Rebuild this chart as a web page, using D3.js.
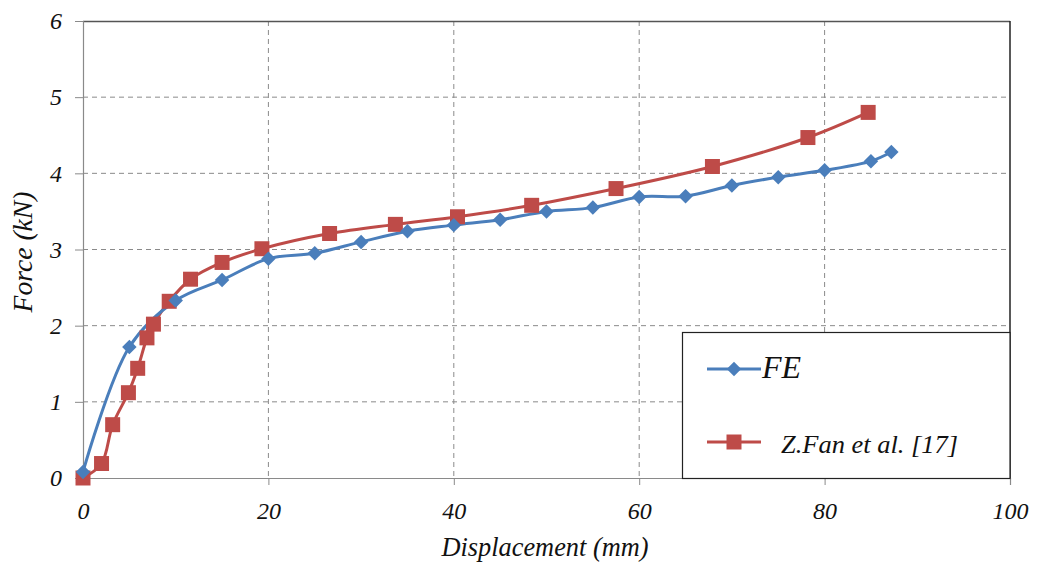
<!DOCTYPE html>
<html><head><meta charset="utf-8">
<script src="https://cdn.jsdelivr.net/npm/d3@7"></script>
<style>body{margin:0;background:#fff}</style>
</head><body>
<svg id="c" width="1038" height="563"></svg>
<script>
const feX = [0, 5, 10, 15, 20, 25, 30, 35, 40, 45, 50, 55, 60, 65, 70, 75, 80, 85, 87.2];
const feY = [0.08, 1.72, 2.33, 2.6, 2.88, 2.95, 3.1, 3.24, 3.32, 3.39, 3.5, 3.55, 3.69, 3.7, 3.84, 3.95, 4.04, 4.16, 4.28];
const fanX = [0, 2, 3.2, 4.9, 5.9, 6.9, 7.6, 9.3, 11.6, 15, 19.3, 26.6, 33.7, 40.4, 48.4, 57.5, 67.9, 78.2, 84.7];
const fanY = [0, 0.19, 0.7, 1.12, 1.44, 1.84, 2.02, 2.32, 2.61, 2.83, 3.01, 3.21, 3.33, 3.43, 3.58, 3.8, 4.09, 4.47, 4.8];
const xTicks = [0, 20, 40, 60, 80, 100];
const yTicks = [0, 1, 2, 3, 4, 5, 6];
const seriesNames = ["FE", "Z.Fan et al. [17]"];
const fontNames = ["Liberation Serif", "Tinos", "Times New Roman"];

const svg = d3.select("#c");
const FONT = fontNames.map(n => `"${n}"`).join(",") + ",serif";
svg.style("font-family", FONT);
const L = 83, R = 1010, T = 21, B = 478;
const x = d3.scaleLinear().domain([0, 100]).range([L, R]);
const y = d3.scaleLinear().domain([0, 6]).range([B, T]);
const blue = "#4A7EBB", red = "#BE4B48";
function styl(t) { return t.style("font-family", FONT).style("font-style", "italic").attr("fill", "#111"); }

// grid
svg.append("g").selectAll("line").data(yTicks.filter(d => d > 0 && d < 6)).join("line")
  .attr("x1", L).attr("x2", R).attr("y1", d => y(d)).attr("y2", d => y(d))
  .attr("stroke", "#8a8a8a").attr("stroke-dasharray", "5,4").attr("stroke-width", 1);
svg.append("g").selectAll("line").data(xTicks.filter(d => d > 0 && d < 100)).join("line")
  .attr("y1", T).attr("y2", B).attr("x1", d => x(d)).attr("x2", d => x(d))
  .attr("stroke", "#8a8a8a").attr("stroke-dasharray", "5,4").attr("stroke-width", 1);

// plot border top/right
svg.append("line").attr("x1", L).attr("x2", R).attr("y1", T + 0.5).attr("y2", T + 0.5).attr("stroke", "#555").attr("stroke-width", 1.5);
svg.append("line").attr("x1", R).attr("x2", R).attr("y1", T).attr("y2", B).attr("stroke", "#222").attr("stroke-width", 1.5);

// axes
const xAxis = svg.append("g").attr("transform", `translate(0,${B})`)
  .call(d3.axisBottom(x).tickValues(xTicks).tickSize(7).tickPadding(17).tickFormat(d3.format("d")));
const yAxis = svg.append("g").attr("transform", `translate(${L},0)`)
  .call(d3.axisLeft(y).tickValues(yTicks).tickSize(8).tickPadding(13).tickFormat(d3.format("d")));
[xAxis, yAxis].forEach(a => {
  a.attr("font-family", null).attr("font-size", null);
  a.select(".domain").attr("stroke", "#8a8a8a").attr("stroke-width", 1.2);
  a.selectAll(".tick line").attr("stroke", "#8a8a8a");
  styl(a.selectAll("text")).attr("font-size", 24);
});

// axis titles
styl(svg.append("text")).attr("x", 545).attr("y", 556).attr("text-anchor", "middle")
  .attr("font-size", 27).attr("textLength", 207).attr("lengthAdjust", "spacingAndGlyphs")
  .text("Displacement (mm)");
styl(svg.append("text")).attr("transform", "translate(32,252) rotate(-90)").attr("text-anchor", "middle")
  .attr("font-size", 27).attr("textLength", 121).attr("lengthAdjust", "spacingAndGlyphs")
  .text("Force (kN)");

// lines
const line = d3.line().x(d => x(d[0])).y(d => y(d[1])).curve(d3.curveCatmullRom.alpha(0.5));
const fe = feX.map((v, i) => [v, feY[i]]);
const fan = fanX.map((v, i) => [v, fanY[i]]);
svg.append("path").datum(fan).attr("d", line).attr("fill", "none").attr("stroke", red).attr("stroke-width", 3);
svg.append("path").datum(fe).attr("d", line).attr("fill", "none").attr("stroke", blue).attr("stroke-width", 3);

function drawDiamonds(g, pts, sz) {
  g.selectAll("path").data(pts).join("path")
    .attr("d", d3.symbol().type(d3.symbolSquare).size(sz))
    .attr("transform", d => `translate(${x(d[0])},${y(d[1])}) rotate(45)`)
    .attr("fill", blue);
}
function drawSquares(g, pts, sz) {
  g.selectAll("path").data(pts).join("path")
    .attr("d", d3.symbol().type(d3.symbolSquare).size(sz))
    .attr("transform", d => `translate(${x(d[0])},${y(d[1])})`)
    .attr("fill", red);
}
drawSquares(svg.append("g"), fan, 225);
drawDiamonds(svg.append("g"), fe, 105);

// legend
const lg = svg.append("g");
lg.append("rect").attr("x", 682.5).attr("y", 332.5).attr("width", 327.5).attr("height", 146)
  .attr("fill", "#fff").attr("stroke", "#222").attr("stroke-width", 1.2);
lg.append("line").attr("x1", 707).attr("x2", 761).attr("y1", 369).attr("y2", 369).attr("stroke", blue).attr("stroke-width", 3);
lg.append("path").attr("d", d3.symbol().type(d3.symbolSquare).size(105)).attr("transform", "translate(734,369) rotate(45)").attr("fill", blue);
styl(lg.append("text")).attr("x", 762).attr("y", 378).attr("font-size", 32).text(seriesNames[0]);
lg.append("line").attr("x1", 707).attr("x2", 761).attr("y1", 442).attr("y2", 442).attr("stroke", red).attr("stroke-width", 3);
lg.append("path").attr("d", d3.symbol().type(d3.symbolSquare).size(225)).attr("transform", "translate(734,442)").attr("fill", red);
styl(lg.append("text")).attr("x", 781).attr("y", 453).attr("font-size", 26)
  .attr("textLength", 177).attr("lengthAdjust", "spacingAndGlyphs").text(seriesNames[1]);
</script>
</body></html>
